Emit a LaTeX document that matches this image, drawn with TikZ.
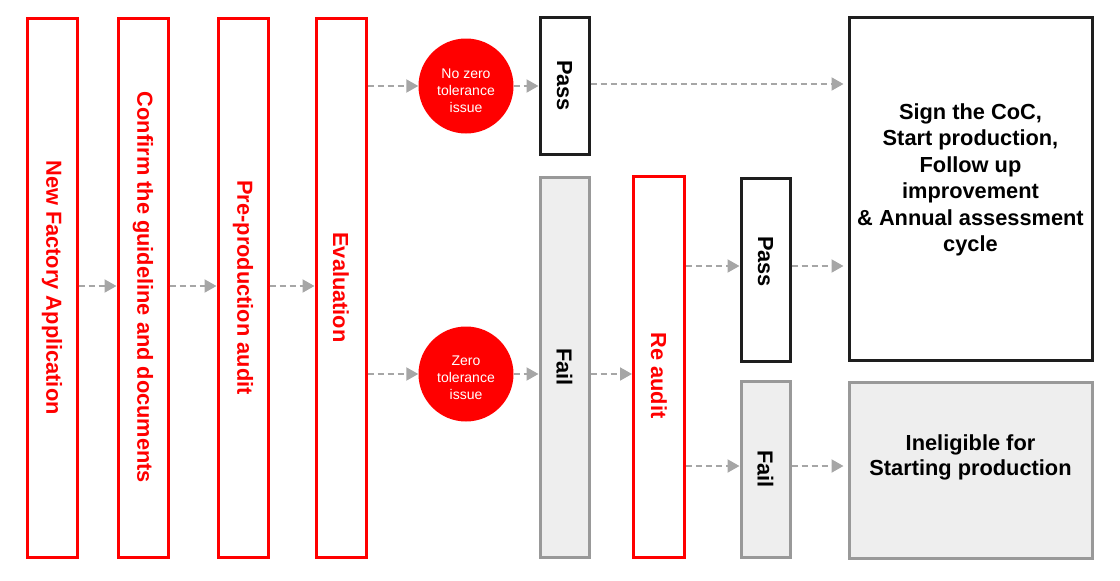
\documentclass[tikz,border=0pt]{standalone}
\usepackage{fontspec}
\setmainfont{Liberation Sans}
\usetikzlibrary{arrows.meta}
\definecolor{myred}{HTML}{FF0000}
\definecolor{boxgray}{HTML}{999999}
\definecolor{fillgray}{HTML}{EEEEEE}
\definecolor{boxblack}{HTML}{1E1E1E}
\definecolor{arrgray}{HTML}{A6A6A6}
\tikzset{
  redbox/.style={draw=myred, line width=3pt, fill=white, text=myred, inner sep=0pt,
    font=\fontsize{21.8}{26}\selectfont\bfseries},
  blackbox/.style={draw=boxblack, line width=3pt, fill=white, text=black, inner sep=0pt,
    font=\fontsize{21.8}{26}\selectfont\bfseries},
  graybox/.style={draw=boxgray, line width=3pt, fill=fillgray, text=black, inner sep=0pt,
    font=\fontsize{21.8}{26}\selectfont\bfseries},
  redcircle/.style={circle, fill=myred, draw=none, minimum size=95pt, inner sep=0pt},
  circtext/.style={text=white, align=center, font=\fontsize{14}{17}\selectfont, inner sep=0pt},
  flow/.style={draw=arrgray, line width=2pt, dash pattern=on 6pt off 4pt,
    -{Triangle[length=12pt,width=13pt]}, arrgray},
}
\begin{document}
\begin{tikzpicture}[x=1pt,y=-1pt]
\useasboundingbox (0,0) rectangle (1120,581);
% left column boxes
\node[redbox, minimum width=50pt, minimum height=539pt] (nfa) at (52,287.5) {\rotatebox{-90}{New Factory Application}};
\node[redbox, minimum width=50pt, minimum height=539pt] (cgd) at (143,287.5) {\rotatebox{-90}{Confirm the guideline and documents}};
\node[redbox, minimum width=50pt, minimum height=539pt] (ppa) at (243,287.5) {\rotatebox{-90}{Pre-production audit}};
\node[redbox, minimum width=50pt, minimum height=539pt] (eva) at (341,287.5) {\rotatebox{-90}{Evaluation}};
% circles
\node[redcircle, label={[circtext, yshift=-5pt]center:No zero\\tolerance\\issue}] (nzt) at (466,86) {};
\node[redcircle, label={[circtext, yshift=-3.5pt]center:Zero\\tolerance\\issue}] (zt) at (466,374) {};
% pass / fail
\node[blackbox, minimum width=49pt, minimum height=137pt] (pass1) at (564.5,85.5) {\rotatebox{-90}{Pass}};
\node[graybox, minimum width=49pt, minimum height=380pt] (fail1) at (564.5,367) {\rotatebox{-90}{Fail}};
\node[redbox, minimum width=51pt, minimum height=381pt] (reaudit) at (659,366.5) {\rotatebox{-90}{\hspace{18pt}Re audit}};
\node[blackbox, minimum width=49pt, minimum height=183pt] (pass2) at (765.5,269.5) {\rotatebox{-90}{Pass\hspace{16pt}}};
\node[graybox, minimum width=49pt, minimum height=176pt] (fail2) at (765.5,469) {\rotatebox{-90}{Fail}};
% result boxes
\node[blackbox, minimum width=243pt, minimum height=343pt] (sign) at (970.5,188.5) {};
\node[align=center, font=\fontsize{21.8}{26.5}\selectfont\bfseries, text=black] (signtxt) at (970.5,180) {Sign the CoC,\\Start production,\\Follow up\\improvement\\\& Annual assessment\\cycle};
\node[graybox, minimum width=243pt, minimum height=176pt] (inel) at (970.5,470) {};
\node[align=center, font=\fontsize{21.8}{25}\selectfont\bfseries, text=black] (ineltxt) at (970.5,457.5) {Ineligible for\\Starting production};
% connectors
\draw[flow] (nfa.east |- 0,286) -- (cgd.west |- 0,286);
\draw[flow] (cgd.east |- 0,286) -- (ppa.west |- 0,286);
\draw[flow] (ppa.east |- 0,286) -- (eva.west |- 0,286);
\draw[flow] (eva.east |- nzt) -- (nzt.west);
\draw[flow] (nzt.east) -- (pass1.west |- nzt);
\draw[flow] (pass1.east |- 0,84) -- ([xshift=-4pt]sign.west |- 0,84);
\draw[flow] (eva.east |- zt) -- (zt.west);
\draw[flow] (zt.east) -- (fail1.west |- zt);
\draw[flow] (fail1.east |- zt) -- (reaudit.west |- zt);
\draw[flow] (reaudit.east |- 0,266) -- (pass2.west |- 0,266);
\draw[flow] (pass2.east |- 0,266) -- ([xshift=-4pt]sign.west |- 0,266);
\draw[flow] (reaudit.east |- 0,466) -- (fail2.west |- 0,466);
\draw[flow] (fail2.east |- 0,466) -- ([xshift=-4pt]inel.west |- 0,466);
\end{tikzpicture}
\end{document}
